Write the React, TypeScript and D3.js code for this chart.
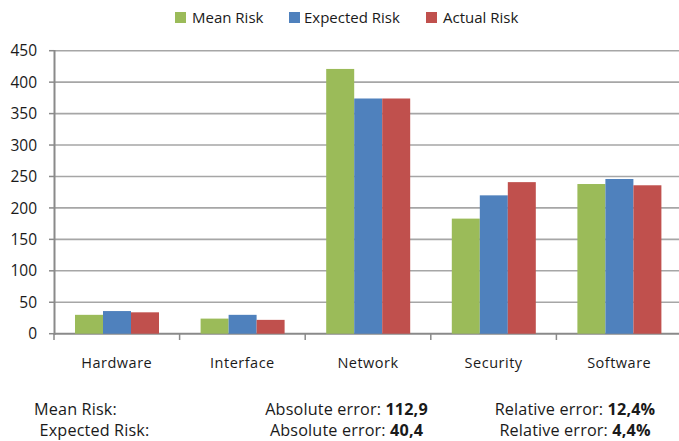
import React from "react";
import * as d3 from "d3";

const categories = ["Hardware", "Interface", "Network", "Security", "Software"];
const seriesNames = ["Mean Risk", "Expected Risk", "Actual Risk"];
const meanRisk = [30, 24, 421, 183, 238];
const expectedRisk = [36, 30, 374, 220, 246];
const actualRisk = [34, 22, 374, 241, 236];
const yTicks = [0, 50, 100, 150, 200, 250, 300, 350, 400, 450];
const colors = ["#9BBB59", "#4F81BD", "#C0504D"];
const summaryRows = [
  { label: "Mean Risk:", abs: "112,9", rel: "12,4%" },
  { label: "Expected Risk:", abs: "40,4", rel: "4,4%" },
];

const W = 679;
const H = 441;
const FONT = "'Open Sans', 'Noto Sans', sans-serif";

export default function App() {
  const series = [meanRisk, expectedRisk, actualRisk];
  const y = d3.scaleLinear().domain([0, 450]).range([333.7, 50.7]);
  const x0 = d3.scaleBand().domain(categories).range([54, 682]).paddingInner(0).paddingOuter(0);
  const inner = d3.scaleBand().domain(seriesNames).range([21, 21 + 84]);

  const legendItems = [
    { name: seriesNames[0], sx: 175, tx: 192 },
    { name: seriesNames[1], sx: 289, tx: 304 },
    { name: seriesNames[2], sx: 426, tx: 443 },
  ];

  return (
    <svg
      width={W}
      height={H}
      style={{ position: "absolute", left: 0, top: 0, background: "#fff" }}
      fontFamily={FONT}
    >
      {yTicks.map((t) => (
        <line
          key={t}
          x1={54}
          x2={682}
          y1={y(t)}
          y2={y(t)}
          stroke={t === 0 ? "#8a8a8a" : "#a6a6a6"}
          strokeWidth={t === 0 ? 2 : 1.6}
        />
      ))}
      {yTicks.map((t) => (
        <g key={"yt" + t}>
          <line x1={49} x2={54} y1={y(t)} y2={y(t)} stroke="#8a8a8a" strokeWidth={1.5} />
          <text x={37} y={y(t)} dy="0.36em" textAnchor="end" fontSize={15.5} fill="#1a1a1a">
            {t}
          </text>
        </g>
      ))}
      {categories.map((c, i) => (
        <g key={c} transform={`translate(${x0(c)},0)`}>
          {series.map((s, j) => (
            <rect
              key={j}
              x={inner(seriesNames[j])}
              width={inner.bandwidth()}
              y={y(s[i])}
              height={y(0) - y(s[i])}
              fill={colors[j]}
            />
          ))}
        </g>
      ))}
      <line x1={54.5} x2={54.5} y1={50} y2={335} stroke="#8a8a8a" strokeWidth={2} />
      {categories.map((c) => (
        <line
          key={"xt" + c}
          x1={x0(c) as number}
          x2={x0(c) as number}
          y1={334}
          y2={340}
          stroke="#8a8a8a"
          strokeWidth={1.5}
        />
      ))}
      {categories.map((c) => (
        <text
          key={"cl" + c}
          x={(x0(c) as number) + x0.bandwidth() / 2}
          y={367.5}
          textAnchor="middle"
          fontSize={14.5}
          fill="#1a1a1a"
          letterSpacing={0.5}
        >
          {c}
        </text>
      ))}
      {legendItems.map((l, j) => (
        <g key={l.name}>
          <rect x={l.sx} y={12} width={11} height={11} fill={colors[j]} />
          <text x={l.tx} y={22.5} fontSize={15} fill="#1a1a1a">
            {l.name}
          </text>
        </g>
      ))}
      {summaryRows.map((r, k) => {
        const yy = 414.5 + k * 21.5;
        return (
          <g key={r.label} fontSize={16.2} fill="#1a1a1a" letterSpacing={0.15}>
            <text x={k === 0 ? 75.5 : 94.5} y={yy} textAnchor="middle">
              {r.label}
            </text>
            <text x={346.5} y={yy} textAnchor="middle">
              {"Absolute error: "}
              <tspan fontWeight="bold">{r.abs}</tspan>
            </text>
            <text x={575} y={yy} textAnchor="middle">
              {"Relative error: "}
              <tspan fontWeight="bold">{r.rel}</tspan>
            </text>
          </g>
        );
      })}
    </svg>
  );
}
